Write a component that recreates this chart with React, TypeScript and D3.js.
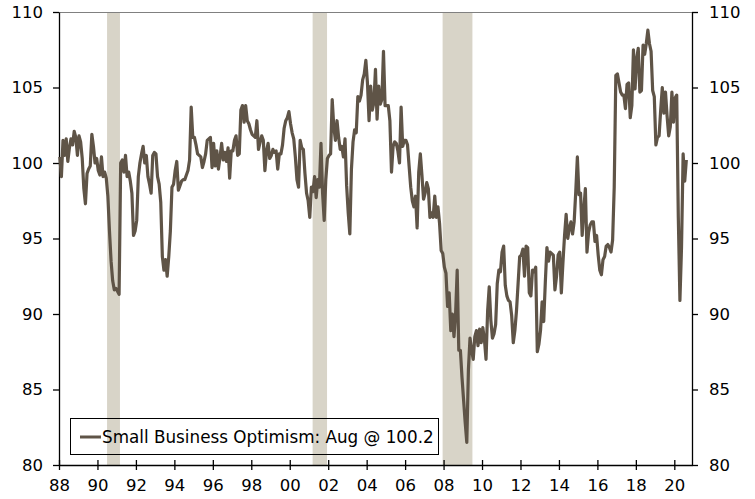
import React, { useRef, useEffect } from "react";
import * as d3 from "d3";

// NFIB small business optimism index, monthly from Jan 1988
const startYear = 1988;
const sbo1988to1995 = [
  100.4, 99.1, 101.5, 100.5, 101.6, 100.1, 101.0, 101.6, 101.2, 102.1, 101.7, 100.5,
  101.8, 101.4, 100.3, 98.3, 97.3, 99.3, 99.6, 99.8, 101.9, 101.1, 100.0, 100.3,
  99.5, 99.2, 100.4, 99.1, 99.4, 99.0, 97.8, 95.5, 93.5, 92.2, 91.6, 91.7,
  91.5, 91.3, 100.0, 100.2, 99.4, 100.5, 99.1, 99.4, 98.8, 98.0, 95.2, 95.5,
  96.2, 99.1, 100.0, 100.6, 101.1, 100.0, 100.5, 99.1, 98.6, 98.0, 100.5, 100.7,
  100.6, 99.1, 98.6, 97.4, 93.8, 92.9, 93.6, 92.5, 93.8, 95.5, 98.4, 98.6,
  99.5, 100.1, 98.2, 98.5, 98.8, 98.9, 98.9, 99.2, 99.5, 100.2, 103.7, 101.7,
  101.7, 101.2, 100.6, 100.5, 100.4, 99.7, 100.1, 100.6, 101.5, 101.6, 101.7, 99.7,
];
const sbo1996to2003 = [
  101.3, 99.8, 100.8, 99.6, 100.4, 101.3, 100.2, 100.7, 100.1, 101.0, 99.0, 100.8,
  100.8, 101.5, 101.8, 100.5, 100.6, 103.5, 103.8, 102.7, 103.8, 102.8, 102.6, 102.2,
  101.9, 101.8, 101.7, 102.8, 100.9, 101.4, 101.8, 101.5, 99.5, 100.8, 101.3, 100.3,
  100.5, 100.9, 100.7, 100.8, 99.6, 100.6, 100.6, 101.2, 102.3, 102.8, 103.0, 103.4,
  102.6, 102.0, 101.6, 100.4, 98.9, 98.4, 101.5, 101.0, 100.9, 99.3, 98.0, 97.5,
  96.4, 98.4, 98.1, 99.1, 97.7, 98.9, 98.4, 101.3, 98.0, 96.2, 98.9, 100.3,
  100.5, 100.6, 104.2, 102.4, 101.5, 102.8, 101.7, 100.9, 101.1, 100.4, 101.6, 98.5,
  96.7, 95.3, 99.6, 101.4, 102.2, 102.0, 104.4, 104.1, 104.5, 105.5, 105.9, 106.8,
];
const sbo2004to2011 = [
  105.3, 102.8, 105.1, 103.5, 104.0, 106.2, 102.9, 105.1, 103.9, 104.2, 107.4, 103.8,
  103.8, 103.8, 102.8, 99.4, 101.1, 101.4, 101.3, 100.8, 100.0, 103.7, 101.1, 101.5,
  101.5, 101.2, 99.8, 98.4, 97.5, 97.1, 97.8, 95.7, 99.4, 100.6, 99.2, 97.6,
  98.0, 98.7, 98.3, 96.4, 96.7, 96.4, 97.8, 96.4, 97.1, 96.0, 94.2, 94.0,
  93.1, 92.7, 90.5, 91.4, 88.9, 90.0, 88.5, 90.0, 92.9, 87.6, 87.6, 85.8,
  84.3, 82.8, 81.5, 86.3, 88.4, 87.6, 87.0, 88.5, 88.9, 87.9, 89.0, 88.1,
  89.1, 88.3, 87.0, 90.2, 91.8, 89.6, 88.4, 88.7, 89.3, 92.0, 92.9, 92.8,
  94.1, 94.5, 91.9, 91.2, 90.9, 90.8, 89.9, 88.1, 88.9, 90.2, 92.0, 93.8,
];
const sbo2012to2020 = [
  93.9, 94.3, 92.5, 94.5, 94.4, 91.4, 91.2, 92.9, 92.8, 93.1, 87.5, 88.0,
  88.9, 90.8, 89.5, 92.1, 94.4, 93.5, 94.1, 94.0, 93.9, 91.6, 92.5, 93.9,
  94.1, 91.4, 93.4, 95.2, 96.6, 95.0, 95.7, 96.1, 95.3, 96.1, 98.1, 100.4,
  97.9, 98.0, 95.2, 96.9, 98.3, 94.1, 95.4, 95.9, 96.1, 96.1, 94.8, 95.2,
  93.9, 92.9, 92.6, 93.6, 93.8, 94.5, 94.6, 94.4, 94.1, 94.9, 98.4, 105.8,
  105.9, 105.3, 104.7, 104.5, 104.5, 103.6, 105.2, 105.3, 103.0, 103.8, 107.5, 104.9,
  106.9, 107.6, 104.7, 104.8, 107.8, 107.2, 107.9, 108.8, 107.9, 107.4, 104.8, 104.4,
  101.2, 101.7, 101.8, 103.5, 105.0, 103.3, 104.7, 103.1, 101.8, 102.4, 104.7, 102.7,
  104.3, 104.5, 96.4, 90.9, 94.4, 100.6, 98.8, 100.2,
];

// recession periods (decimal years)
const recessions = [
  [1990.5, 1991.17],
  [2001.19, 2001.94],
  [2007.95, 2009.5],
];

const xTicks = [1988, 1990, 1992, 1994, 1996, 1998, 2000, 2002, 2004, 2006, 2008, 2010, 2012, 2014, 2016, 2018, 2020];
const yTicks = [80, 85, 90, 95, 100, 105, 110];
const legendLabel = "Small Business Optimism: Aug @ 100.2";

function App() {
  const svgRef = useRef();

  useEffect(() => {
    d3.select(svgRef.current).selectAll("*").remove();

    const width = 755;
    const height = 499;
    const left = 59, right = 692, top = 12, bottom = 465;
    const font = "'DejaVu Sans', Verdana, sans-serif";
    const lineColor = "#5f5447";

    const svg = d3.select(svgRef.current)
      .attr("width", width)
      .attr("height", height);

    const series = [...sbo1988to1995, ...sbo1996to2003, ...sbo2004to2011, ...sbo2012to2020];

    // scales
    const x = d3.scaleLinear().domain([1988, 2020.92]).range([left, right]);
    const y = d3.scaleLinear().domain([80, 110]).range([bottom, top]);

    // recession shading
    svg.append("g")
      .selectAll("rect")
      .data(recessions)
      .join("rect")
        .attr("x", d => x(d[0]))
        .attr("y", top)
        .attr("width", d => x(d[1]) - x(d[0]))
        .attr("height", bottom - top)
        .attr("fill", "#d8d4c8");

    // top border
    svg.append("line")
      .attr("x1", left).attr("x2", right)
      .attr("y1", top + 0.5).attr("y2", top + 0.5)
      .attr("stroke", "#808080")
      .attr("stroke-width", 1);

    // axes
    const yLeft = svg.append("g")
      .attr("transform", `translate(${left},0)`)
      .call(d3.axisLeft(y).tickValues(yTicks).tickSize(6).tickSizeOuter(0).tickPadding(10));
    const yRight = svg.append("g")
      .attr("transform", `translate(${right},0)`)
      .call(d3.axisRight(y).tickValues(yTicks).tickSize(6).tickSizeOuter(0).tickPadding(11));
    const xAxis = svg.append("g")
      .attr("transform", `translate(0,${bottom})`)
      .call(d3.axisBottom(x).tickValues(xTicks).tickSize(5).tickSizeOuter(0).tickPadding(9)
        .tickFormat(d => d3.format("02d")(d % 100)));
    xAxis.selectAll(".tick line").attr("y1", -5);

    [yLeft, yRight, xAxis].forEach(g => {
      g.select(".domain").attr("stroke", "#000").attr("stroke-width", 1.3);
      g.selectAll(".tick line").attr("stroke", "#000").attr("stroke-width", 1.3);
      g.selectAll(".tick text")
        .attr("fill", "#000")
        .style("font-family", font)
        .style("font-size", "16.5px");
    });

    // the index line
    const line = d3.line()
      .x((d, i) => x(startYear + (i + 0.5) / 12))
      .y(d => y(d));
    svg.append("path")
      .datum(series)
      .attr("d", line)
      .attr("fill", "none")
      .attr("stroke", lineColor)
      .attr("stroke-width", 3.2)
      .attr("stroke-linejoin", "round");

    // legend
    const lg = svg.append("g");
    lg.append("rect")
      .attr("x", 70.5).attr("y", 418.5)
      .attr("width", 368).attr("height", 36)
      .attr("fill", "none")
      .attr("stroke", "#000")
      .attr("stroke-width", 1);
    lg.append("line")
      .attr("x1", 80).attr("x2", 101)
      .attr("y1", 437).attr("y2", 437)
      .attr("stroke", lineColor)
      .attr("stroke-width", 3);
    lg.append("text")
      .attr("x", 102).attr("y", 443)
      .style("font-family", font)
      .style("font-size", "16.8px")
      .attr("fill", "#000")
      .text(legendLabel);
  }, []);

  return (
    <div style={{ position: "absolute", left: 0, top: 0 }}>
      <svg ref={svgRef}></svg>
    </div>
  );
}

export default App;
